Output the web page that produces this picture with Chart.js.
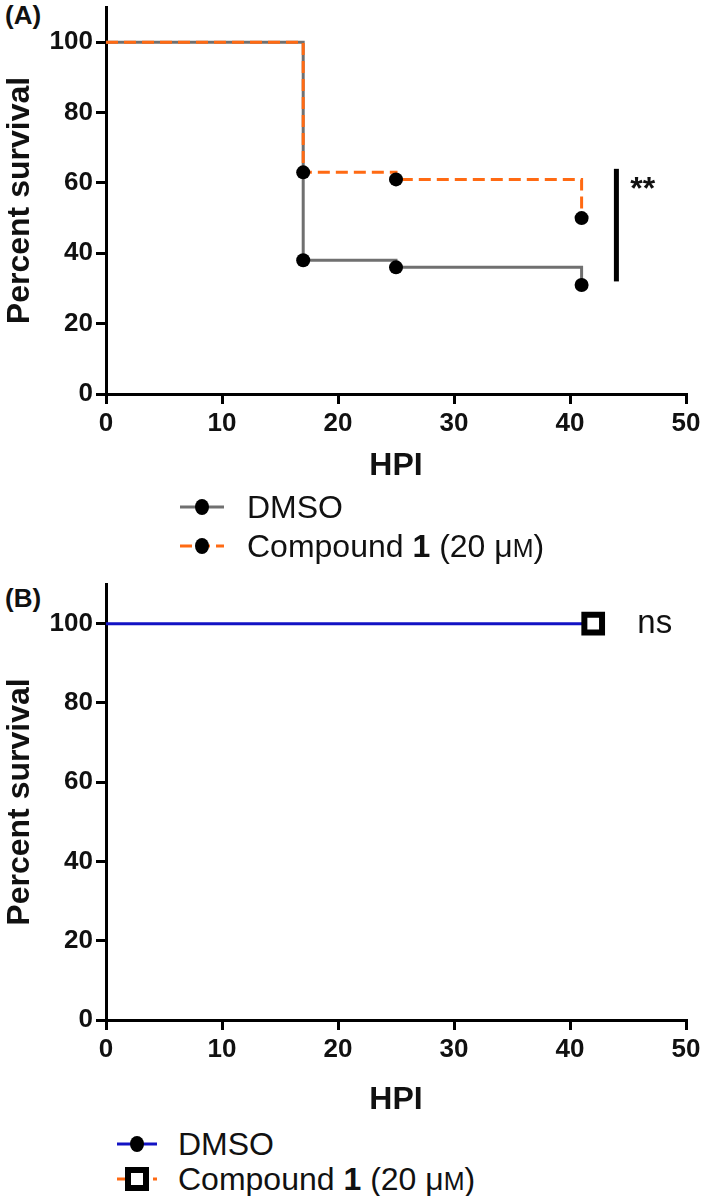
<!DOCTYPE html>
<html>
<head>
<meta charset="utf-8">
<script src="https://cdn.jsdelivr.net/npm/chart.js@4.4.1/dist/chart.umd.min.js"></script>
<style>
  body { margin: 0; background: #fff; }
  #page { position: relative; width: 709px; height: 1196px; overflow: hidden;
          font-family: "Liberation Sans", Arial, sans-serif; color: #111; }
  canvas { position: absolute; left: 0; }
  .panel-label { position: absolute; left: 5px; font-weight: bold; font-size: 26px; line-height: 26px; }
  .legend-row { position: absolute; height: 36px; display: flex; align-items: center;
                white-space: nowrap; font-size: 32px; }
  .legend-row svg { display: block; }
  .sc { font-size: 0.78em; }
</style>
</head>
<body>
<div id="page">
  <div class="panel-label" style="top:2px">(A)</div>
  <canvas id="panelA" width="709" height="490" style="top:0"></canvas>
  <div id="legendA"></div>

  <div class="panel-label" style="top:585px">(B)</div>
  <canvas id="panelB" width="709" height="566" style="top:560px"></canvas>
  <div id="legendB"></div>
</div>

<script>
// survival data (hours post infection vs percent survival)
const seriesNames = ['DMSO', 'Compound <b>1</b> (20 μ<span class="sc">M</span>)'];

const hpiA = [0, 17, 25, 41];
const survA_dmso = [100, 38, 36, 31];
const survA_cmpd = [100, 63, 61, 50];

const hpiB = [0, 42];
const survB_dmso = [100, 100];
const survB_cmpd = [100, 100];

// significance marks
const sigA_x = 44;
const sigA_range = [32, 64];
const sigA_text = '**';
const sigB_x = 45.8;
const sigB_y = 100;
const sigB_text = 'ns';

// axes
const xMin = 0, xMax = 50, xStep = 10;
const yMin = 0, yMax = 110, yStep = 20, yTopTick = 100;

const orange = '#ff6a13';
const gray = '#707070';
const blue = '#1212c4';

function toPoints(xs, ys) {
  return xs.map(function (x, i) { return {x: x, y: ys[i]}; });
}

// draws the "**" / "ns" text next to the curves
const notePlugin = {
  id: 'notes',
  afterDatasetsDraw: function (chart, args, opts) {
    if (!opts.text) return;
    const ctx = chart.ctx;
    const px = chart.scales.x.getPixelForValue(opts.x);
    const py = chart.scales.y.getPixelForValue(opts.y);
    ctx.save();
    ctx.fillStyle = '#111';
    ctx.font = opts.font;
    ctx.textAlign = 'left';
    ctx.textBaseline = 'middle';
    ctx.fillText(opts.text, px, py);
    ctx.restore();
  }
};

function createPanel(id, datasets, layout, note) {
  const chartBottom = layout.bottom;
  const canvasHeight = document.getElementById(id).height;
  return new Chart(document.getElementById(id), {
    type: 'line',
    data: { datasets: datasets },
    options: {
      responsive: false,
      animation: false,
      devicePixelRatio: 1,
      layout: { padding: { top: layout.top, right: 23, left: 0, bottom: 0 } },
      plugins: {
        legend: { display: false },
        tooltip: { enabled: false },
        notes: note
      },
      scales: {
        x: {
          type: 'linear',
          min: xMin, max: xMax,
          ticks: { stepSize: xStep, padding: 4, color: '#111',
                   font: { family: 'Liberation Sans', size: 26, weight: 'bold' } },
          grid: { drawOnChartArea: false, color: '#000', lineWidth: 3, tickLength: 10 },
          border: { color: '#000', width: 3 },
          title: { display: true, text: 'HPI', color: '#111',
                   padding: { top: 0, bottom: layout.titlePad },
                   font: { family: 'Liberation Sans', size: 32, weight: 'bold' } },
          afterFit: function (s) {
            s.height = canvasHeight - chartBottom;
            s.paddingLeft = 0;
            s.paddingRight = 0;
          }
        },
        y: {
          min: yMin, max: yMax,
          ticks: { stepSize: yStep, padding: 3, color: '#111',
                   font: { family: 'Liberation Sans', size: 26, weight: 'bold' } },
          afterBuildTicks: function (s) {
            s.ticks = s.ticks.filter(function (t) { return t.value <= yTopTick; });
          },
          grid: { drawOnChartArea: false, color: '#000', lineWidth: 3, tickLength: 10 },
          border: { color: '#000', width: 3 },
          title: { display: true, text: 'Percent survival', color: '#111',
                   padding: { top: 1, bottom: 0 },
                   font: { family: 'Liberation Sans', size: 32, weight: 'bold' } },
          afterFit: function (s) {
            s.width = 106;
            s.paddingTop = 0;
            s.paddingBottom = 0;
          }
        }
      }
    },
    plugins: [notePlugin]
  });
}

// panel A
createPanel('panelA', [
  {
    label: 'Compound 1',
    data: toPoints(hpiA, survA_cmpd),
    stepped: true,
    borderColor: orange, borderWidth: 3, borderDash: [12, 6],
    pointRadius: [0, 7, 7, 7],
    pointBackgroundColor: '#000', pointBorderColor: '#000', pointBorderWidth: 0,
    order: 1
  },
  {
    label: 'DMSO',
    data: toPoints(hpiA, survA_dmso),
    stepped: true,
    borderColor: gray, borderWidth: 3,
    pointRadius: [0, 7, 7, 7],
    pointBackgroundColor: '#000', pointBorderColor: '#000', pointBorderWidth: 0,
    order: 2
  },
  {
    label: 'sig',
    data: [{x: sigA_x, y: sigA_range[0]}, {x: sigA_x, y: sigA_range[1]}],
    borderColor: '#000', borderWidth: 5, pointRadius: 0,
    order: 0
  }
], { top: 2, bottom: 394, titlePad: 5 },
   { x: sigA_x + 1.2, y: 58, text: sigA_text, font: 'bold 32px "Liberation Sans"' });

// panel B (compound curve coincides with DMSO, only its marker shows)
createPanel('panelB', [
  {
    label: 'Compound 1',
    data: toPoints(hpiB, survB_cmpd),
    showLine: false,
    borderColor: orange, borderWidth: 3, borderDash: [12, 6],
    pointStyle: 'rect',
    pointRadius: [0, 12.5],
    pointBackgroundColor: '#fff', pointBorderColor: '#000', pointBorderWidth: 6,
    order: 0
  },
  {
    label: 'DMSO',
    data: toPoints(hpiB, survB_dmso),
    stepped: true,
    borderColor: blue, borderWidth: 3,
    pointRadius: [0, 7],
    pointBackgroundColor: '#000', pointBorderColor: '#000', pointBorderWidth: 0,
    order: 1
  }
], { top: 24, bottom: 460, titlePad: 7 },
   { x: sigB_x, y: sigB_y, text: sigB_text, font: '33px "Liberation Sans"' });

// legends
function symbolSvg(w, lineColor, dashed, marker) {
  const mid = w / 2;
  let s = '<svg width="' + w + '" height="36">';
  s += '<line x1="0" y1="18" x2="' + w + '" y2="18" stroke="' + lineColor + '" stroke-width="3"' +
       (dashed ? ' stroke-dasharray="12,6"' : '') + '/>';
  if (marker === 'circle') {
    s += '<ellipse cx="' + mid + '" cy="18" rx="7" ry="8" fill="#000"/>';
  } else {
    s += '<rect x="' + (mid - 9) + '" y="9" width="18" height="18" fill="#fff" stroke="#000" stroke-width="6"/>';
  }
  return s + '</svg>';
}

function buildLegend(id, rows, left, textLeft, symWidth) {
  const box = document.getElementById(id);
  rows.forEach(function (r) {
    const row = document.createElement('div');
    row.className = 'legend-row';
    row.style.left = left + 'px';
    row.style.top = (r.y - 18) + 'px';
    row.innerHTML = symbolSvg(symWidth, r.color, r.dashed, r.marker) +
      '<span style="margin-left:' + (textLeft - left - symWidth) + 'px">' + r.name + '</span>';
    box.appendChild(row);
  });
}

buildLegend('legendA', [
  { name: seriesNames[0], color: gray, dashed: false, marker: 'circle', y: 507 },
  { name: seriesNames[1], color: orange, dashed: true, marker: 'circle', y: 546 }
], 180, 247, 44);

buildLegend('legendB', [
  { name: seriesNames[0], color: blue, dashed: false, marker: 'circle', y: 1144 },
  { name: seriesNames[1], color: orange, dashed: true, marker: 'rect', y: 1179 }
], 117, 178, 40);
</script>
</body>
</html>
